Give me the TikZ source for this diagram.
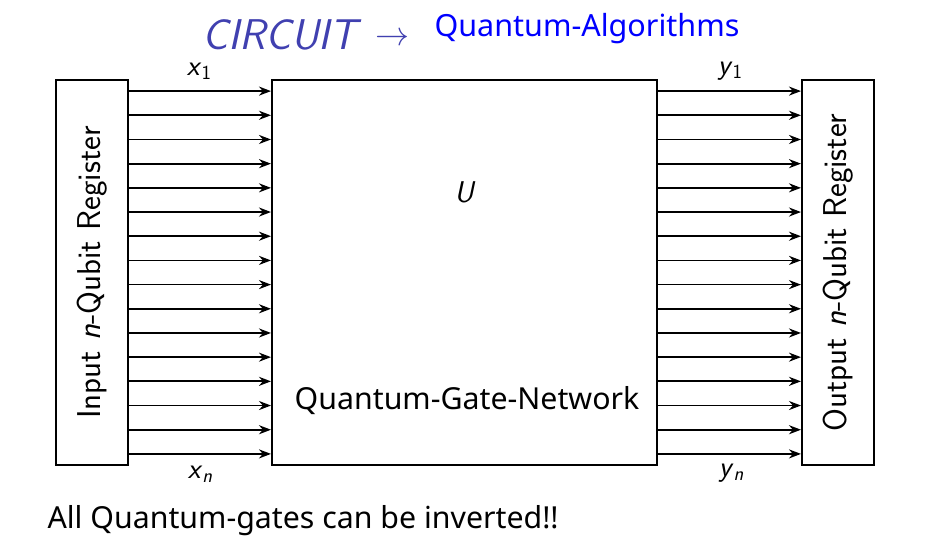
\documentclass[tikz,border=0pt]{standalone}
\usepackage{amsmath}
\usepackage{graphicx}
\usepackage{fontspec}
\newfontfamily\noto{Noto Sans}
\usepackage{tikz}
\usetikzlibrary{arrows.meta,positioning,calc}
\definecolor{titleblue}{RGB}{64,64,176}
\definecolor{algblue}{RGB}{0,0,255}
\newcommand{\qvar}[2]{\textit{#1}\raisebox{-0.3ex}{\fontsize{20}{22}\selectfont #2}}

\begin{document}
\begin{tikzpicture}[
  x=1pt,y=-1pt,
  reg/.style={draw=black,line width=2pt,minimum width=72pt,minimum height=385pt,
              inner sep=0pt},
  regtext/.style={rotate=90,font=\sffamily\fontsize{33}{38}\selectfont},
  gatebox/.style={draw=black,line width=2pt,minimum width=385pt,minimum height=385pt,
                  inner sep=0pt},
  wire/.style={-{Stealth[length=12pt,width=9pt]},line width=1.8pt},
  lbl/.style={font=\sffamily\fontsize{29}{32}\selectfont,inner sep=0pt}
]
\useasboundingbox (0,0) rectangle (938,557);
% title
\node[font=\sffamily\itshape\fontsize{43}{48}\selectfont,text=titleblue,anchor=east] (circ) at (413,35)
  {CIRCUIT\hspace{18pt}\raisebox{4pt}{\resizebox{34pt}{!}{$\rightarrow$}}};
\node[font=\noto\fontsize{30.5}{36}\selectfont,text=algblue,anchor=west] (alg) at (431,29) {Quantum-Algorithms};

\node[reg] (inreg) at (92,272.5) {};
\node[regtext] (inlab) at (inreg.center) {Input \textit{n}-Qubit Register};
\node[gatebox] (gate) at (464.5,272.5) {};
\node[reg] (outreg) at (838,272.5) {};
\node[regtext] (outlab) at (outreg.center) {Output \textit{n}-Qubit Register};

\node[font=\sffamily\fontsize{30}{36}\selectfont] (U) at (465,192) {\textit{U}};
\node[font=\noto\fontsize{30.3}{36}\selectfont] (net) at (467,401) {Quantum-Gate-Network};

% wires in and out
\foreach \i in {0,...,15} {
  \draw[wire] ($(inreg.north east)!{(\i+0.5)/16}!(inreg.south east)$)
    -- ($(gate.north west)!{(\i+0.5)/16}!(gate.south west)$);
  \draw[wire] ($(gate.north east)!{(\i+0.5)/16}!(gate.south east)$)
    -- ($(outreg.north west)!{(\i+0.5)/16}!(outreg.south west)$);
}
\node[lbl] (x1) at (199,71) {\qvar{x}{1}};
\node[lbl] (xn) at (200,474) {\qvar{x}{\itshape n}};
\node[lbl] (y1) at (730,71) {\qvar{y}{1}};
\node[lbl] (yn) at (731,473) {\qvar{y}{\itshape n}};

\node[font=\noto\fontsize{30.3}{36}\selectfont,anchor=west] (inv) at (44,521) {All Quantum-gates can be inverted!!};
\end{tikzpicture}
\end{document}
